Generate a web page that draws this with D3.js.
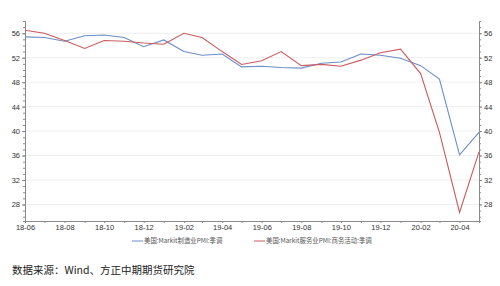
<!DOCTYPE html>
<html lang="en">
<head>
  <meta charset="UTF-8">
  <title>US Markit PMI</title>
  <style>
    body { margin: 0; background: #fff; }
    svg { display: block; font-family: "Noto Sans CJK SC", "DejaVu Sans", sans-serif; }
  </style>
</head>
<body>
  <div class="chart"></div>
  <script src="https://cdnjs.cloudflare.com/ajax/libs/d3/7.8.5/d3.min.js"></script>
  <script>
    const months = ["2018-06","2018-07","2018-08","2018-09","2018-10","2018-11","2018-12",
      "2019-01","2019-02","2019-03","2019-04","2019-05","2019-06","2019-07","2019-08","2019-09",
      "2019-10","2019-11","2019-12","2020-01","2020-02","2020-03","2020-04","2020-05"];
    const mfgPMI = [55.4,55.3,54.7,55.6,55.7,55.3,53.8,54.9,53.0,52.4,52.6,50.5,50.6,50.4,50.3,51.1,
      51.3,52.6,52.4,51.9,50.7,48.5,36.1,39.8];
    const svcPMI = [56.5,56.0,54.8,53.5,54.8,54.7,54.4,54.2,56.0,55.3,53.0,50.9,51.5,53.0,50.7,50.9,
      50.6,51.6,52.8,53.4,49.4,39.8,26.7,36.6];
    const yTicks = [28,32,36,40,44,48,52,56];
    const seriesNames = ["美国:Markit制造业PMI:季调", "美国:Markit服务业PMI:商务活动:季调"];
    const seriesColors = ["#6a8fc6", "#cc5a5e"];
    const sourceText = "数据来源：Wind、方正中期期货研究院";

    const width = 500, height = 286;
    const parse = d3.timeParse("%Y-%m");
    const dates = months.map(parse);

    const x = d3.scaleTime().domain(d3.extent(dates)).range([25, 479]);
    const y = d3.scaleLinear().domain([25.3, 58]).range([221, 21]);

    const svg = d3.select('.chart').append('svg')
      .attr('width', width).attr('height', height);

    // grid
    svg.append('g').selectAll('line').data(yTicks).join('line')
      .attr('x1', 25).attr('x2', 479)
      .attr('y1', d => y(d)).attr('y2', d => y(d))
      .attr('stroke', '#efefef').attr('stroke-width', 1);

    const axisColor = '#8a8a8a';
    const labelColor = '#333';

    function styleAxis(g) {
      g.selectAll('path, line').attr('stroke', axisColor);
      g.selectAll('text').attr('fill', labelColor).attr('font-size', 7.5);
      g.select('.domain').attr('stroke', axisColor);
    }

    const minorY = d3.range(26, 58, 1);

    // left axis
    const leftG = svg.append('g').attr('transform', 'translate(25,0)');
    leftG.append('g').call(d3.axisLeft(y).tickValues(minorY).tickSize(2).tickFormat(''))
      .call(styleAxis);
    leftG.append('g').call(d3.axisLeft(y).tickValues(yTicks).tickSize(3).tickPadding(2).tickSizeOuter(0))
      .call(styleAxis);

    // right axis
    const rightG = svg.append('g').attr('transform', 'translate(479,0)');
    rightG.append('g').call(d3.axisRight(y).tickValues(minorY).tickSize(2).tickFormat(''))
      .call(styleAxis);
    rightG.append('g').call(d3.axisRight(y).tickValues(yTicks).tickSize(3).tickPadding(2).tickSizeOuter(0))
      .call(styleAxis);

    // bottom axis
    const bottomG = svg.append('g').attr('transform', `translate(0,${y(25.3)})`);
    bottomG.append('g').call(d3.axisBottom(x).tickValues(dates).tickSize(2).tickFormat('').tickSizeOuter(0))
      .call(styleAxis);
    bottomG.append('g').call(d3.axisBottom(x)
        .tickValues(dates.filter((d, i) => i % 2 === 0))
        .tickFormat(d3.timeFormat('%y-%m')).tickSize(0).tickPadding(4).tickSizeOuter(0))
      .call(styleAxis);

    // lines
    const line = d3.line().x((d, i) => x(dates[i])).y(d => y(d));
    [mfgPMI, svcPMI].forEach((vals, i) => {
      svg.append('path').datum(vals)
        .attr('d', line).attr('fill', 'none')
        .attr('stroke', seriesColors[i]).attr('stroke-width', 1.1);
    });

    // legend
    const legendX = [132, 254];
    const legend = svg.append('g');
    seriesNames.forEach((name, i) => {
      legend.append('line')
        .attr('x1', legendX[i]).attr('x2', legendX[i] + 11)
        .attr('y1', 241).attr('y2', 241)
        .attr('stroke', seriesColors[i]).attr('stroke-width', 1);
      legend.append('text')
        .attr('x', legendX[i] + 12).attr('y', 243.3)
        .attr('font-size', 6.4).attr('fill', '#555')
        .text(name);
    });

    // source
    svg.append('text')
      .attr('x', 12).attr('y', 274)
      .attr('font-size', 10.5).attr('fill', '#222')
      .text(sourceText);
  </script>
</body>
</html>
